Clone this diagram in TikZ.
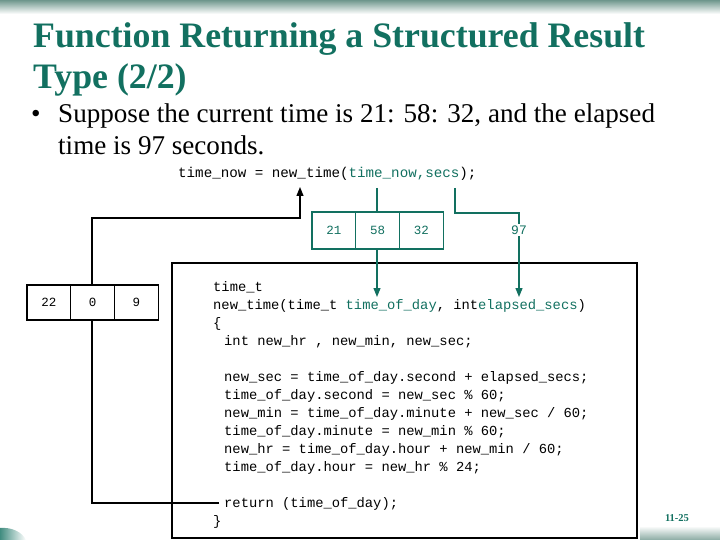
\documentclass[tikz,border=0pt]{standalone}
\usepackage{fontspec}
\setmainfont{Liberation Serif}
\setmonofont{Liberation Mono}
\usetikzlibrary{arrows.meta}
\definecolor{tealc}{RGB}{18,112,96}
\definecolor{bandc}{RGB}{110,150,140}
\begin{document}
\begin{tikzpicture}[x=1pt,y=-1pt,
  code/.style={anchor=base west, inner sep=0pt, font=\fontsize{13.8}{16}\ttfamily\selectfont},
  topcode/.style={anchor=base west, inner sep=0pt, font=\fontsize{14.2}{16}\ttfamily\selectfont},
  tcell/.style={draw=tealc, line width=1.2pt, fill=white, minimum width=43.7pt, minimum height=37pt, inner sep=0pt, text=tealc, font=\fontsize{12.5}{13}\ttfamily\selectfont},
  bcell/.style={draw=black, line width=1.2pt, fill=white, minimum width=43.7pt, minimum height=35pt, inner sep=0pt, font=\fontsize{12.5}{13}\ttfamily\selectfont},
  tline/.style={draw=tealc, line width=1.2pt},
  bline/.style={draw=black, line width=1.2pt},
  tip/.style={-{Triangle[length=9pt,width=7pt]}}
]
\useasboundingbox (0,0) rectangle (720,540);
% background decoration
\shade[top color=bandc, bottom color=white] (0,0) rectangle (720,14);
\shade[top color=white, bottom color=bandc!80] (640,526) rectangle (720,540);
\shade[left color=tealc!80, right color=white] (0,540) -- (0,528) .. controls (12,527) and (22,532) .. (26,540) -- cycle;

% title
\node[anchor=base west, inner sep=0pt, text=tealc, font=\fontsize{35.8}{40}\bfseries\selectfont] (t1) at (33,48) {Function Returning a Structured Result};
\node[anchor=base west, inner sep=0pt, text=tealc, font=\fontsize{35.8}{40}\bfseries\selectfont] (t2) at (33,89) {Type (2/2)};
% bullet
\node[anchor=base west, inner sep=0pt, font=\fontsize{27.1}{30}\selectfont] (bul) at (31,123) {\textbullet};
\node[anchor=base west, inner sep=0pt, font=\fontsize{27.1}{30}\selectfont] (b1) at (58,123) {Suppose the current time is 21: 58: 32, and the elapsed};
\node[anchor=base west, inner sep=0pt, font=\fontsize{27.1}{30}\selectfont] (b2) at (58,155) {time is 97 seconds.};

% top statement
\node[topcode] (call) at (178,178) {time\_now = new\_time(\textcolor{tealc}{time\_now,secs});};

% code box
\draw[bline] (172,263) rectangle (637,538);
\node[code] (c1) at (213,291) {time\_t};
\node[code] (c2) at (213,309) {new\_time(time\_t \textcolor{tealc}{time\_of\_day}, int\textcolor{tealc}{elapsed\_secs})};
\node[code] (c3) at (213,327) {\{};
\node[code] (c4) at (224,345) {int new\_hr , new\_min, new\_sec;};
\node[code] (c5) at (224,381) {new\_sec = time\_of\_day.second + elapsed\_secs;};
\node[code] (c6) at (224,399) {time\_of\_day.second = new\_sec \% 60;};
\node[code] (c7) at (224,417) {new\_min = time\_of\_day.minute + new\_sec / 60;};
\node[code] (c8) at (224,435) {time\_of\_day.minute = new\_min \% 60;};
\node[code] (c9) at (224,453) {new\_hr = time\_of\_day.hour + new\_min / 60;};
\node[code] (c10) at (224,471) {time\_of\_day.hour = new\_hr \% 24;};
\node[code] (c11) at (224,507) {return (time\_of\_day);};
\node[code] (c12) at (213,525) {\}};

% coordinates for connector ends
\coordinate (argnow) at (377,188);
\coordinate (argsecs) at (455,188);
\coordinate (tod) at (377,297);
\coordinate (els) at (519,297);
\coordinate (ret) at (219,503);
\coordinate (ntime) at (300,187);

% black return connector
\draw[bline, tip] (ret) -- (92,503) -- (92,218) -- (300,218) -- (ntime);

% teal connectors
\draw[tline] (argnow) -- (377,212);
\draw[tline, tip] (377,249) -- (tod);
\draw[tline, tip] (argsecs) -- (455,213) -- (519,213) -- (els);
\node[fill=white, inner sep=1.5pt, text=tealc, font=\fontsize{13}{14}\ttfamily\selectfont] (n97) at (519,230) {97};

% teal structure boxes
\node[tcell] (h1) at (333.85,230.5) {21};
\node[tcell] (m1) at (377.55,230.5) {58};
\node[tcell] (s1) at (421.25,230.5) {32};

% black structure boxes
\node[bcell] (h2) at (48.85,302.5) {22};
\node[bcell] (m2) at (92.55,302.5) {0};
\node[bcell] (s2) at (136.25,302.5) {9};

% page number
\node[anchor=base, inner sep=0pt, text=tealc, font=\fontsize{10.5}{11}\bfseries\selectfont] (pg) at (677,521) {11-25};
\end{tikzpicture}
\end{document}
